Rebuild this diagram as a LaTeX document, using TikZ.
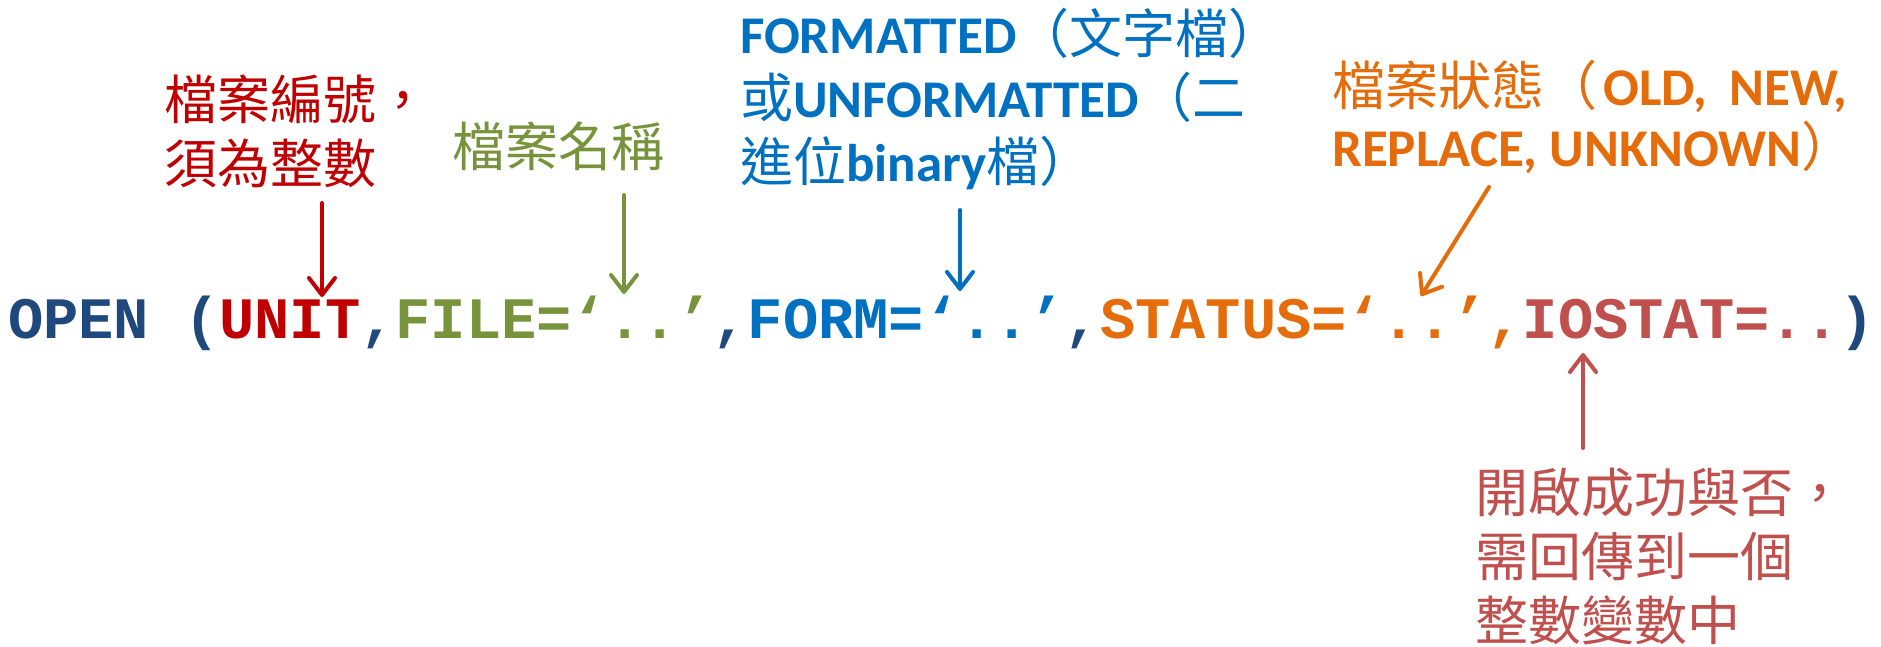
\documentclass[tikz,border=0pt]{standalone}
\usepackage{fontspec}
\setmainfont{Noto Sans CJK TC}
\newfontfamily\cjk{Noto Sans CJK TC}
\newfontfamily\lat{Carlito}
\newfontfamily\mono{Liberation Mono}
\usetikzlibrary{arrows.meta}
\definecolor{codeblue}{HTML}{1F497D}
\definecolor{cred}{HTML}{C00000}
\definecolor{cgreen}{HTML}{77933C}
\definecolor{cblue}{HTML}{0070C0}
\definecolor{corange}{HTML}{E46C0A}
\definecolor{cbrown}{HTML}{C0504D}
\newcommand\latb[1]{{\lat\bfseries #1}}
\begin{document}
\begin{tikzpicture}[x=1pt,y=-1pt,
  lbl/.style={inner sep=0pt, anchor=north west, align=left, font=\cjk\fontsize{53}{64}\selectfont},
  arr/.style={line width=4pt, line cap=round, -{Straight Barb[length=17pt,width=26pt,round]}},
  codefont/.style={inner sep=0pt, anchor=base west, font=\mono\bfseries\fontsize{58.7}{60}\selectfont}]
\useasboundingbox (0,0) rectangle (1881,647);
% code line
\node[codefont, text=codeblue] (code) at (8,338) {OPEN (\textcolor{cred}{UNIT},\textcolor{cgreen}{FILE=‘..’},\textcolor{cblue}{FORM=‘..’},\textcolor{corange}{STATUS=‘..’,}\textcolor{cbrown}{IOSTAT=..})};
% labels
\node[lbl, text=cred] (unitlbl) at (164,75) {檔案編號，\\須為整數};
\node[lbl, text=cgreen] (filelbl) at (452,122) {檔案名稱};
\node[lbl, text=cblue] (formlbl) at (740,8) {\latb{FORMATTED}（文字檔）\\或\latb{UNFORMATTED}（二\\進位\latb{binary}檔）};
\node[lbl, text=corange, font=\cjk\fontsize{53}{61}\selectfont] (statlbl) at (1332,60) {檔案狀態（\hspace{6pt}\latb{OLD,\hspace{10pt} NEW,}\\\latb{REPLACE, UNKNOWN}）};
\node[lbl, text=cbrown] (iolbl) at (1475,468) {開啟成功與否，\\需回傳到一個\\整數變數中};
% arrow end points
\coordinate (unitS) at (322,203); \coordinate (unitE) at (322,297);
\coordinate (fileS) at (624,195); \coordinate (fileE) at (624,294);
\coordinate (formS) at (960,210); \coordinate (formE) at (960,291);
\coordinate (statS) at (1489,187); \coordinate (statE) at (1421,296);
\coordinate (ioS) at (1583,448); \coordinate (ioE) at (1583,353);
\draw[arr, cred] (unitS) -- (unitE);
\draw[arr, cgreen] (fileS) -- (fileE);
\draw[arr, cblue] (formS) -- (formE);
\draw[arr, corange] (statS) -- (statE);
\draw[arr, cbrown] (ioS) -- (ioE);
\end{tikzpicture}
\end{document}
